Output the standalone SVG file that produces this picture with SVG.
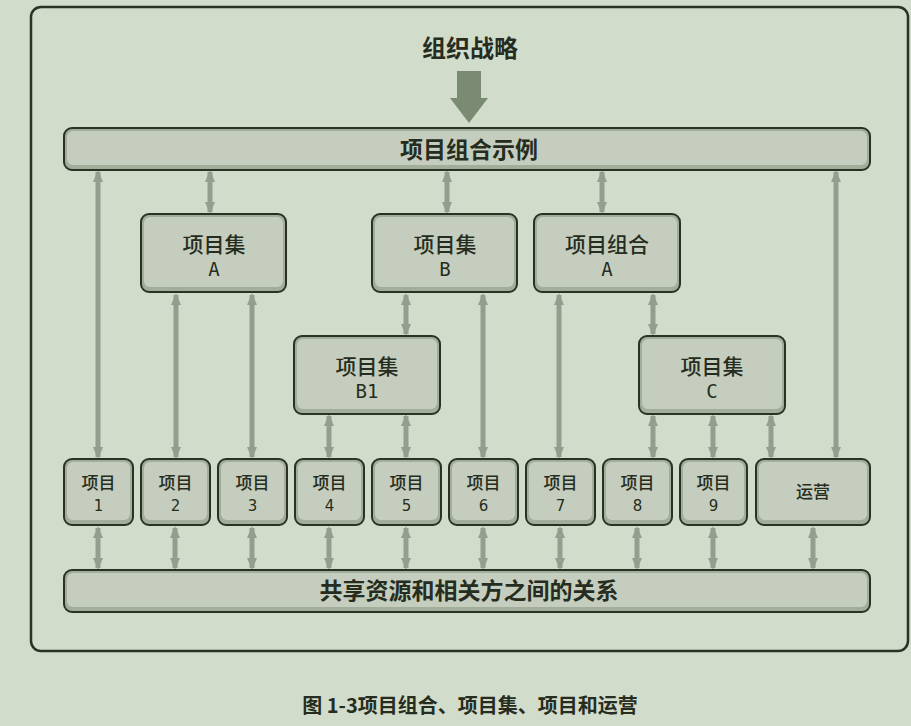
<svg xmlns="http://www.w3.org/2000/svg" width="911" height="726" viewBox="0 0 911 726">
<style>
.bg{fill:#d2dccb}
.frame{fill:none;stroke:#2b3224;stroke-width:2.5}
.bo{fill:#a2ad9a;stroke:#2b3224;stroke-width:2}
.bi{fill:#c5cebe}
.t{font-family:"Noto Sans CJK SC","DejaVu Sans",sans-serif;fill:#262d20;text-anchor:middle;font-weight:500}
.n{font-family:"DejaVu Sans","Noto Sans CJK SC",sans-serif;fill:#262d20;text-anchor:middle;font-size:15px}
.m{font-family:"DejaVu Sans Mono","Noto Sans CJK SC",monospace;fill:#262d20;text-anchor:middle}
.bold{font-weight:bold}
.c{stroke:#949e8e;stroke-width:5;fill:none;marker-start:url(#h);marker-end:url(#h)}
</style>
<defs>
<marker id="h" viewBox="0 0 12 10" refX="10" refY="5" markerWidth="12" markerHeight="10" markerUnits="userSpaceOnUse" orient="auto-start-reverse">
<path d="M0,0 L12,5 L0,10 Z" fill="#949e8e"/>
</marker>
</defs>
<rect class="bg" x="0" y="0" width="911" height="726"/>
<rect class="frame" x="31" y="7" width="877" height="644" rx="10"/>
<text class="t bold" x="470" y="57" font-size="24">组织战略</text>
<path d="M457,71 H481 V98 H488 L469,123 L450,98 H457 Z" fill="#7b8a72"/>
<g id="connectors">
<line class="c" x1="98" y1="172" x2="98" y2="457"/>
<line class="c" x1="210" y1="172" x2="210" y2="212"/>
<line class="c" x1="447" y1="172" x2="447" y2="212"/>
<line class="c" x1="602" y1="172" x2="602" y2="212"/>
<line class="c" x1="836" y1="172" x2="836" y2="457"/>
<line class="c" x1="176" y1="295" x2="176" y2="457"/>
<line class="c" x1="252" y1="295" x2="252" y2="457"/>
<line class="c" x1="406" y1="295" x2="406" y2="334"/>
<line class="c" x1="483" y1="295" x2="483" y2="457"/>
<line class="c" x1="329" y1="416" x2="329" y2="457"/>
<line class="c" x1="406" y1="416" x2="406" y2="457"/>
<line class="c" x1="559" y1="295" x2="559" y2="457"/>
<line class="c" x1="653" y1="295" x2="653" y2="334"/>
<line class="c" x1="653" y1="416" x2="653" y2="457"/>
<line class="c" x1="713" y1="416" x2="713" y2="457"/>
<line class="c" x1="771" y1="416" x2="771" y2="457"/>
<line class="c" x1="98" y1="528" x2="98" y2="568"/>
<line class="c" x1="175" y1="528" x2="175" y2="568"/>
<line class="c" x1="252" y1="528" x2="252" y2="568"/>
<line class="c" x1="329" y1="528" x2="329" y2="568"/>
<line class="c" x1="406" y1="528" x2="406" y2="568"/>
<line class="c" x1="483" y1="528" x2="483" y2="568"/>
<line class="c" x1="560" y1="528" x2="560" y2="568"/>
<line class="c" x1="637" y1="528" x2="637" y2="568"/>
<line class="c" x1="713" y1="528" x2="713" y2="568"/>
<line class="c" x1="813" y1="528" x2="813" y2="568"/>
</g>
<g id="portfolio-top">
<rect class="bo" x="64" y="128" width="806" height="42" rx="8"/>
<rect class="bi" x="67" y="131" width="800" height="34" rx="6"/>
<text class="t bold" x="469" y="158" font-size="23">项目组合示例</text>
</g>
<g id="program-a">
<rect class="bo" x="141" y="214" width="145" height="78" rx="8"/>
<rect class="bi" x="144" y="217" width="139" height="70" rx="6"/>
<text class="t" x="214" y="252" font-size="21">项目集</text>
<text class="m" x="214" y="276" font-size="19">A</text>
</g>
<g id="program-b">
<rect class="bo" x="372" y="214" width="145" height="78" rx="8"/>
<rect class="bi" x="375" y="217" width="139" height="70" rx="6"/>
<text class="t" x="445" y="252" font-size="21">项目集</text>
<text class="m" x="445" y="276" font-size="19">B</text>
</g>
<g id="portfolio-a">
<rect class="bo" x="534" y="214" width="146" height="78" rx="8"/>
<rect class="bi" x="537" y="217" width="140" height="70" rx="6"/>
<text class="t" x="607" y="252" font-size="21">项目组合</text>
<text class="m" x="607" y="276" font-size="19">A</text>
</g>
<g id="program-b1">
<rect class="bo" x="294" y="336" width="146" height="78" rx="8"/>
<rect class="bi" x="297" y="339" width="140" height="70" rx="6"/>
<text class="t" x="367" y="374" font-size="21">项目集</text>
<text class="m" x="367" y="398" font-size="19">B1</text>
</g>
<g id="program-c">
<rect class="bo" x="639" y="336" width="146" height="78" rx="8"/>
<rect class="bi" x="642" y="339" width="140" height="70" rx="6"/>
<text class="t" x="712" y="374" font-size="21">项目集</text>
<text class="m" x="712" y="398" font-size="19">C</text>
</g>
<g id="project-1"><rect class="bo" x="64" y="459" width="69" height="66" rx="8"/><rect class="bi" x="67" y="462" width="63" height="58" rx="6"/><text class="t" x="98.5" y="489" font-size="17">项目</text><text class="n" x="98.5" y="511">1</text></g>
<g id="project-2"><rect class="bo" x="141" y="459" width="69" height="66" rx="8"/><rect class="bi" x="144" y="462" width="63" height="58" rx="6"/><text class="t" x="175.5" y="489" font-size="17">项目</text><text class="n" x="175.5" y="511">2</text></g>
<g id="project-3"><rect class="bo" x="218" y="459" width="69" height="66" rx="8"/><rect class="bi" x="221" y="462" width="63" height="58" rx="6"/><text class="t" x="252.5" y="489" font-size="17">项目</text><text class="n" x="252.5" y="511">3</text></g>
<g id="project-4"><rect class="bo" x="295" y="459" width="69" height="66" rx="8"/><rect class="bi" x="298" y="462" width="63" height="58" rx="6"/><text class="t" x="329.5" y="489" font-size="17">项目</text><text class="n" x="329.5" y="511">4</text></g>
<g id="project-5"><rect class="bo" x="372" y="459" width="69" height="66" rx="8"/><rect class="bi" x="375" y="462" width="63" height="58" rx="6"/><text class="t" x="406.5" y="489" font-size="17">项目</text><text class="n" x="406.5" y="511">5</text></g>
<g id="project-6"><rect class="bo" x="449" y="459" width="69" height="66" rx="8"/><rect class="bi" x="452" y="462" width="63" height="58" rx="6"/><text class="t" x="483.5" y="489" font-size="17">项目</text><text class="n" x="483.5" y="511">6</text></g>
<g id="project-7"><rect class="bo" x="526" y="459" width="69" height="66" rx="8"/><rect class="bi" x="529" y="462" width="63" height="58" rx="6"/><text class="t" x="560.5" y="489" font-size="17">项目</text><text class="n" x="560.5" y="511">7</text></g>
<g id="project-8"><rect class="bo" x="603" y="459" width="69" height="66" rx="8"/><rect class="bi" x="606" y="462" width="63" height="58" rx="6"/><text class="t" x="637.5" y="489" font-size="17">项目</text><text class="n" x="637.5" y="511">8</text></g>
<g id="project-9"><rect class="bo" x="680" y="459" width="67" height="66" rx="8"/><rect class="bi" x="683" y="462" width="61" height="58" rx="6"/><text class="t" x="713.5" y="489" font-size="17">项目</text><text class="n" x="713.5" y="511">9</text></g>
<g id="operations"><rect class="bo" x="756" y="459" width="114" height="66" rx="8"/><rect class="bi" x="759" y="462" width="108" height="58" rx="6"/><text class="t" x="813" y="498" font-size="17">运营</text></g>
<g id="shared-resources">
<rect class="bo" x="64" y="570" width="806" height="42" rx="8"/>
<rect class="bi" x="67" y="573" width="800" height="34" rx="6"/>
<text class="t bold" x="469" y="599" font-size="23">共享资源和相关方之间的关系</text>
</g>
<text class="t bold" x="470" y="713" font-size="20">图 1-3项目组合、项目集、项目和运营</text>
</svg>
